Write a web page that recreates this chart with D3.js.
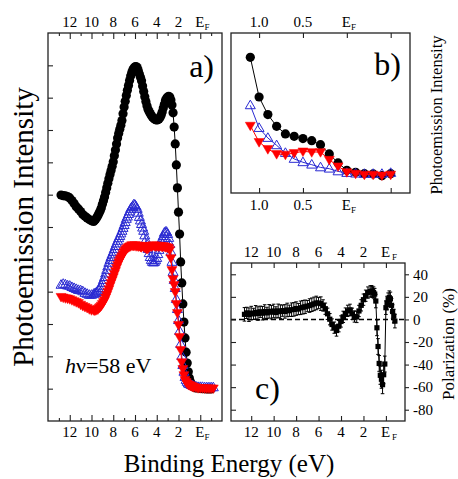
<!DOCTYPE html>
<html>
<head>
<meta charset="utf-8">
<script src="https://cdn.jsdelivr.net/npm/d3@7"></script>
<style>
  body { margin: 0; background: #fff; }
  svg { display: block; }
</style>
</head>
<body>
<svg id="chart" width="458" height="479"></svg>
<script>
// ---- panel a : spectra over the full valence band (binding energy, eV) ----
var energyA = [12.8,12.6,12.4,12.2,12.0,11.8,11.6,11.4,11.2,11.0,10.8,10.6,10.4,10.2,10.0,9.8,
  9.7,9.6,9.5,9.4,9.3,9.2,9.1,9.0,8.9,8.8,8.7,8.6,8.5,8.4,8.3,8.2,8.1,8.0,7.9,7.8,7.7,7.6,7.5,7.4,7.3,7.2,7.1,7.0,
  6.9,6.8,6.7,6.6,6.5,6.4,6.3,6.2,6.1,6.0,5.9,5.8,5.7,5.6,5.5,5.4,5.3,5.2,5.1,5.0,4.9,4.8,4.7,4.6,4.5,4.4,4.3,4.2,4.1,4.0,
  3.9,3.8,3.7,3.6,3.5,3.4,
  3.3,3.2,3.1,3.0,2.9,2.8,2.7,2.6,2.5,2.4,2.3,2.2,2.1,2.0,1.9,1.8,1.7,1.6,1.5,1.4,1.3,1.2,1.1,1.0,0.9,0.8,0.7,
  0.6,0.4,0.2,0.0,-0.2,-0.4,-0.6,-0.8,-1.0,-1.2];
var blackA = [5.99,5.97,5.96,5.94,5.90,5.82,5.73,5.63,5.56,5.48,5.39,5.33,5.28,5.23,5.19,5.17,
  5.21,5.25,5.30,5.36,5.43,5.50,5.59,5.70,5.81,5.93,6.07,6.21,6.35,6.49,6.62,6.75,6.88,7.02,7.20,7.38,7.57,7.75,7.89,8.02,8.15,8.29,8.50,8.71,
  8.89,9.07,9.23,9.38,9.53,9.67,9.78,9.86,9.92,9.95,9.96,9.93,9.84,9.73,9.63,9.52,9.36,9.19,9.03,8.88,8.75,8.64,8.57,8.51,8.45,8.40,8.37,8.34,8.32,8.31,
  8.32,8.34,8.39,8.46,8.56,8.68,
  8.80,8.91,8.98,9.02,9.04,9.02,8.93,8.77,8.53,8.09,7.57,6.92,6.21,5.46,4.78,3.92,3.27,2.62,2.06,1.57,1.13,0.79,0.52,0.33,0.21,0.14,0.08,
  0.05,0.02,0.02,0.01,0.00,0.00,-0.01,-0.01,-0.01,null];
var blueA = [3.21,3.24,3.22,3.19,3.18,3.14,3.11,3.08,3.05,3.04,3.01,2.96,2.93,2.90,2.90,2.93,
  2.94,2.96,2.99,3.02,3.06,3.11,3.18,3.27,3.36,3.45,3.56,3.67,3.78,3.89,3.98,4.07,4.15,4.23,4.32,4.41,4.49,4.57,4.65,4.72,4.80,4.88,4.97,5.06,
  5.15,5.25,5.32,5.40,5.48,5.56,5.61,5.65,5.70,5.68,5.63,5.56,5.44,5.31,5.20,5.09,4.98,4.88,4.74,4.60,4.46,4.32,4.19,4.07,3.98,3.92,3.90,3.92,3.97,4.04,
  4.16,4.29,4.42,4.54,4.64,4.72,
  4.82,4.85,4.85,4.78,4.66,4.47,4.23,3.92,3.61,3.36,3.11,2.77,2.46,2.12,1.78,1.38,1.01,0.73,0.52,0.36,0.27,0.21,0.16,0.14,0.13,0.11,0.10,
  0.08,0.07,0.05,0.05,0.05,0.04,0.04,0.04,0.04,0.04];
var redA = [2.84,2.82,2.80,2.79,2.77,2.74,2.71,2.68,2.65,2.60,2.56,2.53,2.50,2.46,2.43,2.43,
  2.42,2.43,2.45,2.46,2.50,2.53,2.57,2.62,2.68,2.74,2.82,2.90,2.99,3.08,3.18,3.27,3.36,3.45,3.55,3.64,3.74,3.83,3.91,3.98,4.04,4.10,4.17,4.23,
  4.28,4.32,4.35,4.38,4.40,4.41,4.44,4.43,4.42,4.44,4.41,4.43,4.40,4.42,4.39,4.38,4.42,4.40,4.37,4.35,4.32,4.34,4.38,4.41,4.40,4.42,4.44,4.42,4.40,4.43,
  4.41,4.40,4.42,4.41,4.39,4.41,
  4.40,4.38,4.38,4.37,4.35,4.29,4.04,3.67,3.39,3.21,2.99,2.62,2.34,1.97,1.60,1.20,0.82,0.61,0.42,0.27,0.21,0.16,0.13,0.11,0.10,0.08,0.07,
  0.05,0.04,0.02,0.02,0.02,0.01,0.01,0.01,0.01,0.01];
var yTicksA = [0,1,2,3,4,5,6,7,8,9,10];

// ---- panel b : close to the Fermi level ----
var energyB = [1.1,1.0,0.9,0.8,0.7,0.6,0.5,0.4,0.3,0.2,0.1,0.0,-0.1,-0.2,-0.3,-0.4,-0.5];
var blackB = [8.48,6.00,4.90,4.17,3.69,3.54,3.40,3.27,3.02,2.44,1.88,1.42,1.29,1.21,1.19,1.08,1.21];
var blueB  = [5.48,4.06,3.44,2.98,2.50,2.13,1.92,1.77,1.60,1.52,1.35,1.25,1.21,1.19,1.19,1.19,1.25];
var redB   = [4.21,3.19,2.75,2.44,2.40,2.50,2.60,2.56,2.56,2.08,1.67,1.31,1.21,1.15,1.15,1.10,1.15];
var ticksB = [1.0, 0.5, 0.0, -0.5];
var labelsB = ["1.0", "0.5", "EF", ""];

// ---- panel c : spin polarization (%) ----
var energyC = [12.6,12.4,12.2,12.0,11.8,11.6,11.4,11.2,11.0,10.8,10.6,10.4,10.2,10.0,9.8,9.6,9.4,9.2,9.0,8.8,
  8.6,8.4,8.2,8.0,7.8,7.6,7.4,7.2,7.0,6.8,6.6,6.4,6.2,6.0,5.8,5.6,5.4,5.2,5.0,4.8,4.6,4.4,4.2,4.0,3.8,3.6,3.4,3.2,
  3.0,2.8,2.6,2.4,2.2,2.0,1.8,1.6,1.4,
  1.3,1.2,1.1,1.0,0.9,0.8,0.7,0.6,0.5,0.4,0.3,0.2,0.1,0.0,-0.1,-0.2,-0.3,-0.4,-0.5,-0.6,-0.7,-0.8];
var polC = [4.5,5.8,4.2,5.6,4.9,6.3,5.2,6.8,5.5,7.0,5.8,7.2,6.4,7.5,6.2,7.6,6.9,7.8,7.1,8.4,
  7.7,8.6,8.9,9.6,9.2,10.3,10.8,11.2,11.8,12.3,13.0,13.8,14.6,14.5,14.0,12.4,9.5,5.0,0.2,-4.5,-7.3,-9.8,-6.0,-1.8,2.3,5.2,7.6,8.5,
  5.0,2.6,2.2,7.5,12.5,17.5,21.0,23.8,24.8,
  25.0,24.5,23.8,22.5,16.3,-7.4,-24.0,-39.0,-49.5,-53.0,-57.8,-49.0,-39.5,10.4,14.5,17.5,19.3,18.2,12.5,7.0,3.0,-1.5];
var errC = [6,5,6,6,5,6,6,5,6,6,5,6,6,6,5,6,6,5,6,6,
  5,6,6,6,5,6,6,6,5,6,6,6,6,5,6,5,5,5,5,5,5,5,5,5,5,5,5,5,
  5,5,5,5,5,5,5,5,5,
  5,5,5,5,6,7,7,7,8,8,8,8,7,6,6,6,6,6,6,6,6,6];
var ticksE = [12, 10, 8, 6, 4, 2, 0];
var minorE = [13, 11, 9, 7, 5, 3, 1, -1];
var ticksPol = [40, 20, 0, -20, -40, -60, -80];

var serif = "'Liberation Serif', 'DejaVu Serif', 'Times New Roman', serif";
var svg = d3.select("#chart").attr("font-family", serif);
svg.append("rect").attr("width", 458).attr("height", 479).attr("fill", "#fff");

var blue = "#2a2ad2", red = "#ff0000";
var triUp = "M0,-5.2L5,3.4L-5,3.4Z";
var triDown = "M-5,-3.4L5,-3.4L0,5.2Z";

function pairs(es, vs) {
  return es.map(function(e, i) { return {e: e, v: vs[i], i: i}; })
           .filter(function(d) { return d.v != null; });
}

function txt(g) {
  return g.append("text").attr("font-family", serif).attr("fill", "#000");
}

// tick marks along a horizontal edge, pointing inward
function hTicks(g, x, ypos, top, values, size) {
  var ax = (top ? d3.axisTop(x) : d3.axisBottom(x)).tickValues(values).tickSize(-size).tickFormat("");
  g.append("g").attr("transform", "translate(0," + ypos + ")").call(ax)
    .call(function(s) { s.select(".domain").remove(); s.selectAll("line").attr("stroke", "#222").attr("stroke-width", 1.1); });
}

function energyLabel(g, xp, base, label, gap) {
  if (label === "EF") {
    var t = txt(g).attr("x", xp - 5).attr("y", base).attr("font-size", 15);
    t.append("tspan").text("E");
    t.append("tspan").attr("font-size", 9).attr("dx", gap).attr("dy", 3).text("F");
  } else if (label !== "") {
    txt(g).attr("x", xp).attr("y", base).attr("text-anchor", "middle").attr("font-size", 15).text(label);
  }
}

function frame(g, x0, y0, x1, y1) {
  g.append("rect").attr("x", x0).attr("y", y0).attr("width", x1 - x0).attr("height", y1 - y0)
    .attr("fill", "none").attr("stroke", "#222").attr("stroke-width", 1.3);
}

function series(g, x, y, pts, color, marker) {
  g.append("path").datum(pts)
    .attr("fill", "none").attr("stroke", color).attr("stroke-width", 1)
    .attr("d", d3.line().x(function(d) { return x(d.e); }).y(function(d) { return y(d.v); }));
  var m = g.append("g").selectAll("path").data(pts).join("path")
    .attr("transform", function(d) { return "translate(" + x(d.e) + "," + y(d.v) + ")"; });
  if (marker === "circle") {
    m.attr("d", d3.symbol(d3.symbolCircle, Math.PI * 4.6 * 4.6)).attr("fill", color);
  } else if (marker === "up") {
    m.attr("d", triUp).attr("fill", "none").attr("stroke", color).attr("stroke-width", 1);
  } else {
    m.attr("d", triDown).attr("fill", color).attr("stroke", color).attr("stroke-width", 0.5);
  }
}

// ================= panel a =================
var ga = svg.append("g");
var xA = d3.scaleLinear().domain([14, -2]).range([48, 222]);
var yA = d3.scaleLinear().domain([-1, 11]).range([421, 33]);

series(ga, xA, yA, pairs(energyA, blackA), "#000", "circle");
series(ga, xA, yA, pairs(energyA, blueA), blue, "up");
series(ga, xA, yA, pairs(energyA, redA), red, "down");

frame(ga, 48, 33, 222, 421);
hTicks(ga, xA, 33, true, ticksE, 6);
hTicks(ga, xA, 33, true, minorE, 3);
hTicks(ga, xA, 421, false, ticksE, 6);
hTicks(ga, xA, 421, false, minorE, 3);
ga.append("g").attr("transform", "translate(48,0)")
  .call(d3.axisLeft(yA).tickValues(yTicksA).tickSize(-5).tickFormat(""))
  .call(function(s) { s.select(".domain").remove(); s.selectAll("line").attr("stroke", "#222").attr("stroke-width", 1.1); });

ticksE.forEach(function(v) {
  var t = v === 0 ? "EF" : String(v);
  energyLabel(ga, xA(v), 27, t, 0);
  energyLabel(ga, xA(v), 437, t, 0);
});

txt(ga).attr("x", 214).attr("y", 77).attr("text-anchor", "end").attr("font-size", 32).text("a)");
var hv = txt(ga).attr("x", 65).attr("y", 373).attr("font-size", 22);
hv.append("tspan").attr("font-style", "italic").text("h");
hv.append("tspan").text("ν=58 eV");

// ================= panel b =================
var gb = svg.append("g");
var xB = d3.scaleLinear().domain([1.32, -0.72]).range([231, 410]);
var yB = d3.scaleLinear().domain([0, 10]).range([193, 33]);

series(gb, xB, yB, pairs(energyB, blackB), "#000", "circle");
series(gb, xB, yB, pairs(energyB, blueB), blue, "up");
series(gb, xB, yB, pairs(energyB, redB), red, "down");

frame(gb, 231, 33, 410, 193);
hTicks(gb, xB, 33, true, ticksB, 5);
hTicks(gb, xB, 193, false, ticksB, 5);
ticksB.forEach(function(v, i) {
  energyLabel(gb, xB(v), 27, labelsB[i], 0);
  energyLabel(gb, xB(v), 210, labelsB[i], 0);
});
txt(gb).attr("x", 401).attr("y", 75).attr("text-anchor", "end").attr("font-size", 32).text("b)");
txt(gb).attr("transform", "translate(442,115) rotate(-90)")
  .attr("text-anchor", "middle").attr("font-size", 16.5).text("Photoemission Intensity");

// ================= panel c =================
var gc = svg.append("g");
var xC = d3.scaleLinear().domain([13.8, -1.7]).range([231, 405]);
var yC = d3.scaleLinear().domain([-90, 50]).range([421, 263]);

gc.append("line").attr("x1", 231).attr("x2", 405).attr("y1", yC(0)).attr("y2", yC(0))
  .attr("stroke", "#000").attr("stroke-width", 1.6).attr("stroke-dasharray", "5,3");

var pol = pairs(energyC, polC);
gc.append("g").selectAll("g").data(pol).join("g")
  .attr("transform", function(d) { return "translate(" + xC(d.e) + ",0)"; })
  .each(function(d) {
    var e = errC[d.i], s = d3.select(this);
    s.append("line").attr("y1", yC(d.v - e)).attr("y2", yC(d.v + e)).attr("stroke", "#000").attr("stroke-width", 1);
    s.append("line").attr("x1", -1.8).attr("x2", 1.8).attr("y1", yC(d.v + e)).attr("y2", yC(d.v + e)).attr("stroke", "#000").attr("stroke-width", 1);
    s.append("line").attr("x1", -1.8).attr("x2", 1.8).attr("y1", yC(d.v - e)).attr("y2", yC(d.v - e)).attr("stroke", "#000").attr("stroke-width", 1);
  });
gc.append("path").datum(pol).attr("fill", "none").attr("stroke", "#000").attr("stroke-width", 1)
  .attr("d", d3.line().x(function(d) { return xC(d.e); }).y(function(d) { return yC(d.v); }));
gc.append("g").selectAll("rect").data(pol).join("rect")
  .attr("x", function(d) { return xC(d.e) - 2.6; }).attr("y", function(d) { return yC(d.v) - 2.6; })
  .attr("width", 5.2).attr("height", 5.2).attr("fill", "#000");

frame(gc, 231, 263, 405, 421);
hTicks(gc, xC, 263, true, ticksE, 5);
hTicks(gc, xC, 421, false, ticksE, 5);
gc.append("g").attr("transform", "translate(231,0)")
  .call(d3.axisLeft(yC).tickValues(ticksPol).tickSize(-5).tickFormat(""))
  .call(function(s) { s.select(".domain").remove(); s.selectAll("line").attr("stroke", "#222").attr("stroke-width", 1.1); });
gc.append("g").attr("transform", "translate(405,0)")
  .call(d3.axisRight(yC).tickValues(ticksPol).tickSize(4).tickPadding(4).tickFormat(function(d) { return String(d); }))
  .call(function(s) {
    s.attr("font-family", serif);
    s.select(".domain").remove();
    s.selectAll("line").attr("stroke", "#222").attr("stroke-width", 1.1);
    s.selectAll("text").attr("font-size", 15).attr("font-family", serif).attr("fill", "#000");
  });
ticksE.forEach(function(v) {
  var t = v === 0 ? "EF" : String(v);
  energyLabel(gc, xC(v), 257, t, 2);
  energyLabel(gc, xC(v), 437, t, 2);
});
txt(gc).attr("x", 255).attr("y", 399).attr("font-size", 32).text("c)");
txt(gc).attr("transform", "translate(454,344) rotate(-90)")
  .attr("text-anchor", "middle").attr("font-size", 17).text("Polarization (%)");

// ================= shared labels =================
txt(svg).attr("transform", "translate(33,227) rotate(-90)")
  .attr("text-anchor", "middle").attr("font-size", 29).text("Photoemission Intensity");
txt(svg).attr("x", 229).attr("y", 472).attr("text-anchor", "middle")
  .attr("font-size", 25).text("Binding Energy (eV)");
</script>
</body>
</html>
